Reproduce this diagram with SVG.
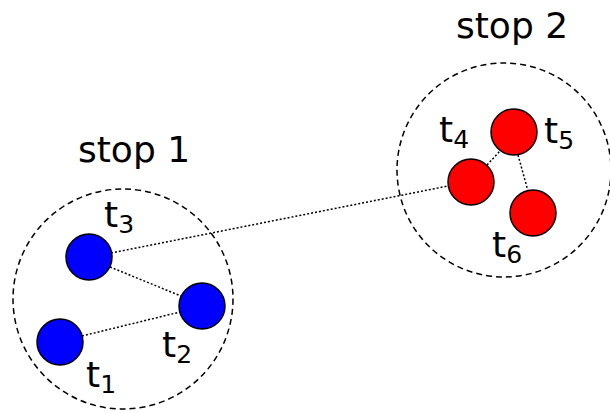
<svg xmlns="http://www.w3.org/2000/svg" width="610" height="413" viewBox="0 0 610 413">
<style>
.stop{fill:none;stroke:#000;stroke-width:1.5;stroke-dasharray:6,4}
.blue{fill:#0000ff;stroke:#000;stroke-width:1.5}
.red{fill:#ff0000;stroke:#000;stroke-width:1.5}
.lbl{font-family:"DejaVu Sans",Verdana,sans-serif;font-size:36px;fill:#000}
.sub{font-size:25px}
.edge{stroke:#000;stroke-width:1.5;stroke-dasharray:2,2;fill:none}
</style>
<rect width="610" height="413" fill="#fff"/>
<g id="stop1">
<circle class="stop" cx="123" cy="299" r="110"/>
<text class="lbl" x="78" y="162">stop 1</text>
</g>
<g id="stop2">
<circle class="stop" cx="504" cy="170" r="107"/>
<text class="lbl" x="456" y="38">stop 2</text>
</g>
<g id="connectors">
<line class="edge" x1="111" y1="253" x2="448" y2="186"/>
<line class="edge" x1="110" y1="267" x2="181" y2="296"/>
<line class="edge" x1="82" y1="336" x2="180" y2="312"/>
<line class="edge" x1="487" y1="165" x2="500" y2="151"/>
<line class="edge" x1="518" y1="155" x2="528" y2="191"/>
</g>
<g id="t1"><circle class="blue" cx="60" cy="342" r="23"/><text class="lbl" x="86" y="387">t<tspan class="sub" dy="6">1</tspan></text></g>
<g id="t2"><circle class="blue" cx="202" cy="306" r="23"/><text class="lbl" x="162" y="357">t<tspan class="sub" dy="6">2</tspan></text></g>
<g id="t3"><circle class="blue" cx="89" cy="257" r="23"/><text class="lbl" x="104" y="227">t<tspan class="sub" dy="6">3</tspan></text></g>
<g id="t4"><circle class="red" cx="471" cy="182" r="23"/><text class="lbl" x="439" y="142">t<tspan class="sub" dy="6">4</tspan></text></g>
<g id="t5"><circle class="red" cx="514" cy="132" r="23"/><text class="lbl" x="544" y="143">t<tspan class="sub" dy="6">5</tspan></text></g>
<g id="t6"><circle class="red" cx="533" cy="213" r="23"/><text class="lbl" x="492" y="257">t<tspan class="sub" dy="6">6</tspan></text></g>
</svg>
